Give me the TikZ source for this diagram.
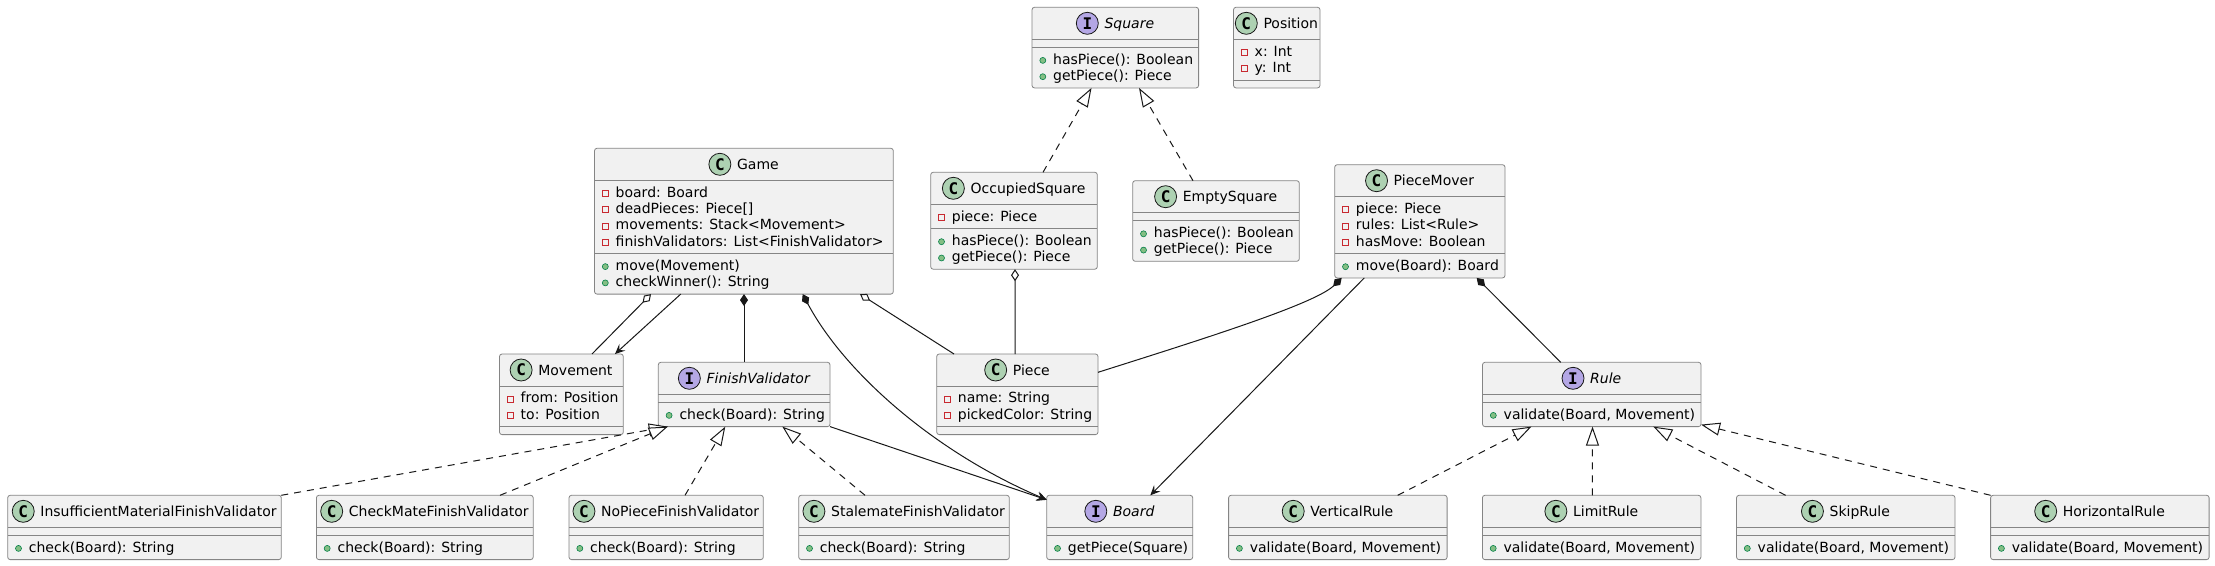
\documentclass[tikz,border=0pt]{standalone}
\usepackage{fontspec}
\setmainfont{DejaVu Sans}
\newfontfamily\iconfont{DejaVu Sans Mono}
\usetikzlibrary{arrows.meta,calc}
\definecolor{boxbg}{HTML}{F1F1F1}
\definecolor{boxline}{HTML}{858585}
\definecolor{ink}{HTML}{181818}
\definecolor{cgreen}{HTML}{ADD1B2}
\definecolor{ipurple}{HTML}{B4A7E5}
\definecolor{privred}{HTML}{C82930}
\definecolor{pubfill}{HTML}{84BE84}
\definecolor{publine}{HTML}{038048}
\tikzset{
  classbox/.style={draw=boxline, line width=0.8pt, fill=boxbg, rounded corners=2.5pt, inner sep=0pt, outer sep=0pt, anchor=north west},
  divider/.style={draw=boxline, line width=0.8pt},
  kindicon/.style={circle, draw=ink, line width=0.8pt, minimum size=22pt, inner sep=0pt, font=\iconfont\bfseries\fontsize{16}{16}\selectfont},
  titletext/.style={inner sep=0pt, anchor=base, font=\fontsize{14}{16}\selectfont},
  membertext/.style={inner sep=0pt, anchor=base west, font=\fontsize{14}{16}\selectfont},
  privicon/.style={draw=privred, line width=0.8pt},
  pubicon/.style={draw=publine, fill=pubfill, line width=0.6pt},
  link/.style={draw=ink, line width=1pt},
  realize/.style={link, dash pattern=on 7pt off 6pt, -{Triangle[open, fill=white, length=19pt, width=13pt]}},
  aggr/.style={link, {Diamond[open, fill=white, length=12pt, width=8pt]}-},
  compo/.style={link, {Diamond[length=12pt, width=8pt]}-},
  assoc/.style={link, -{Stealth[length=10pt, width=9pt, inset=4pt]}},
  compoarrow/.style={link, {Diamond[length=12pt, width=8pt]}-{Stealth[length=10pt, width=9pt, inset=4pt]}},
}
\newcounter{memcount}
% #1 name #2 left #3 top #4 width #5 n attrs #6 n methods #7 icon colour #8 letter #9 title
\newcommand\umlclass[9]{%
  \pgfmathsetmacro\boxh{48+16.3*(#5+#6)}%
  \node[classbox, minimum width=#4pt, minimum height=\boxh pt] (#1) at (#2,#3) {};
  \pgfmathsetmacro\dvB{40+16.3*#5}%
  \draw[divider] ($(#1.north west)+(0,32)$) -- ($(#1.north east)+(0,32)$);
  \draw[divider] ($(#1.north west)+(0,\dvB)$) -- ($(#1.north east)+(0,\dvB)$);
  \node[titletext] (#1-title) at ($(#1.north west)+(#4/2,21)$) {\hspace*{28pt}#9};
  \node[kindicon, fill=#7] (#1-icon) at ($(#1-title.base west)+(11,-5)$) {#8};
}
% #1 class #2 index #3 text
\newcommand\umlattr[3]{%
  \pgfmathsetmacro\bline{32+16.8+16.3*#2}%
  \stepcounter{memcount}%
  \draw[privicon] ($(#1.north west)+(7.8,\bline-6.7)$) rectangle ++(6,6);
  \node[membertext] (mem\arabic{memcount}) at ($(#1.north west)+(21,\bline)$) {#3};
}
% #1 class #2 n attrs #3 index #4 text
\newcommand\umlmeth[4]{%
  \pgfmathsetmacro\bline{40+16.3*#2+16.8+16.3*#3}%
  \stepcounter{memcount}%
  \filldraw[pubicon] ($(#1.north west)+(10.8,\bline-3.7)$) circle (3pt);
  \node[membertext] (mem\arabic{memcount}) at ($(#1.north west)+(21,\bline)$) {#4};
}
\begin{document}
\begin{tikzpicture}[x=1pt, y=-1pt]
\fill[white] (0,0) rectangle (2215,565);
\useasboundingbox (0,0) rectangle (2215,565);

\umlclass{square}{1032}{7.3}{166.6}{0}{2}{ipurple}{I}{\itshape Square}
\umlmeth{square}{0}{0}{hasPiece(): Boolean}
\umlmeth{square}{0}{1}{getPiece(): Piece}

\umlclass{position}{1233.5}{7.3}{86.5}{2}{0}{cgreen}{C}{Position}
\umlattr{position}{0}{x: Int}
\umlattr{position}{1}{y: Int}

\umlclass{game}{594.5}{148.3}{298.8}{4}{2}{cgreen}{C}{Game}
\umlattr{game}{0}{board: Board}
\umlattr{game}{1}{deadPieces: Piece[]}
\umlattr{game}{2}{movements: Stack<Movement>}
\umlattr{game}{3}{finishValidators: List<FinishValidator>}
\umlmeth{game}{4}{0}{move(Movement)}
\umlmeth{game}{4}{1}{checkWinner(): String}

\umlclass{occ}{930.7}{172.3}{166.6}{1}{2}{cgreen}{C}{OccupiedSquare}
\umlattr{occ}{0}{piece: Piece}
\umlmeth{occ}{1}{0}{hasPiece(): Boolean}
\umlmeth{occ}{1}{1}{getPiece(): Piece}

\umlclass{empty}{1132.7}{180.7}{166.6}{0}{2}{cgreen}{C}{EmptySquare}
\umlmeth{empty}{0}{0}{hasPiece(): Boolean}
\umlmeth{empty}{0}{1}{getPiece(): Piece}

\umlclass{mover}{1334.7}{164.7}{170.3}{3}{1}{cgreen}{C}{PieceMover}
\umlattr{mover}{0}{piece: Piece}
\umlattr{mover}{1}{rules: List<Rule>}
\umlattr{mover}{2}{hasMove: Boolean}
\umlmeth{mover}{3}{0}{move(Board): Board}

\umlclass{movement}{499.5}{354}{123.8}{2}{0}{cgreen}{C}{Movement}
\umlattr{movement}{0}{from: Position}
\umlattr{movement}{1}{to: Position}

\umlclass{fv}{658.3}{362.3}{171.7}{0}{1}{ipurple}{I}{\itshape FinishValidator}
\umlmeth{fv}{0}{0}{check(Board): String}

\umlclass{piece}{936.7}{354}{161.3}{2}{0}{cgreen}{C}{Piece}
\umlattr{piece}{0}{name: String}
\umlattr{piece}{1}{pickedColor: String}

\umlclass{rule}{1482.5}{362.3}{218.5}{0}{1}{ipurple}{I}{\itshape Rule}
\umlmeth{rule}{0}{0}{validate(Board, Movement)}

\umlclass{im}{7.7}{495.3}{273.6}{0}{1}{cgreen}{C}{InsufficientMaterialFinishValidator}
\umlmeth{im}{0}{0}{check(Board): String}
\umlclass{cm}{316.4}{495.3}{216.8}{0}{1}{cgreen}{C}{CheckMateFinishValidator}
\umlmeth{cm}{0}{0}{check(Board): String}
\umlclass{np}{569}{495.3}{194.3}{0}{1}{cgreen}{C}{NoPieceFinishValidator}
\umlmeth{np}{0}{0}{check(Board): String}
\umlclass{sm}{798.7}{495.3}{210.6}{0}{1}{cgreen}{C}{StalemateFinishValidator}
\umlmeth{sm}{0}{0}{check(Board): String}
\umlclass{board}{1046.7}{495.3}{146}{0}{1}{ipurple}{I}{\itshape Board}
\umlmeth{board}{0}{0}{getPiece(Square)}
\umlclass{vr}{1228.6}{495.3}{218.5}{0}{1}{cgreen}{C}{VerticalRule}
\umlmeth{vr}{0}{0}{validate(Board, Movement)}
\umlclass{lr}{1482.4}{495.3}{218.5}{0}{1}{cgreen}{C}{LimitRule}
\umlmeth{lr}{0}{0}{validate(Board, Movement)}
\umlclass{sr}{1736.5}{495.3}{218.5}{0}{1}{cgreen}{C}{SkipRule}
\umlmeth{sr}{0}{0}{validate(Board, Movement)}
\umlclass{hr}{1990.6}{495.3}{218.5}{0}{1}{cgreen}{C}{HorizontalRule}
\umlmeth{hr}{0}{0}{validate(Board, Movement)}

% realizations
\draw[realize] ($(occ.north west)+(112.3,0)$) -- ($(square.south west)+(59.5,0)$);
\draw[realize] ($(empty.north west)+(60.3,0)$) -- ($(square.south west)+(107,0)$);
\draw[realize] (im.north east) -- ($(fv.south west)+(9.5,0)$);
\draw[realize] ($(cm.north west)+(183.6,0)$) -- ($(fv.south west)+(9.5,0)$);
\draw[realize] ($(np.north west)+(116,0)$) -- ($(fv.south west)+(67,0)$);
\draw[realize] ($(sm.north west)+(66.3,0)$) -- ($(fv.south west)+(124,0)$);
\draw[realize] ($(vr.north west)+(169.1,0)$) -- ($(rule.south west)+(49,0)$);
\draw[realize] ($(lr.north west)+(110,0)$) -- ($(rule.south west)+(110,0)$);
\draw[realize] ($(sr.north west)+(49.1,0)$) -- ($(rule.south west)+(170.8,0)$);
\draw[realize] (hr.north west) -- ($(rule.south east)+(0,-2)$);

% associations
\draw[aggr] ($(game.south west)+(56.5,0)$) -- ($(movement.north west)+(92.5,0)$);
\draw[assoc] ($(game.south west)+(86.2,0)$) -- ($(movement.north west)+(115.5,0)$);
\draw[compo] ($(game.south west)+(149.5,0)$) -- ($(fv.north west)+(85.7,0)$);
\draw[compoarrow] ($(game.south west)+(208.2,0)$) .. controls (842.7,369.3) and (930,450) .. ($(board.north west)+(0,4.5)$);
\draw[aggr] ($(game.south west)+(265.5,0)$) -- ($(piece.north west)+(17.3,0)$);
\draw[aggr] ($(occ.south west)+(84.3,0)$) -- ($(piece.north west)+(78.5,0)$);
\draw[compo] ($(mover.south west)+(7,0)$) .. controls (1315,304) and (1200,340) .. ($(piece.north east)+(0,18.3)$);
\draw[assoc] ($(mover.south west)+(29.6,0)$) -- ($(board.north west)+(103.6,0)$);
\draw[compo] ($(mover.south west)+(142,0)$) -- ($(rule.north west)+(78.2,0)$);
\draw[assoc] (fv.south east) -- ($(board.north west)+(0,4.5)$);
\end{tikzpicture}
\end{document}
